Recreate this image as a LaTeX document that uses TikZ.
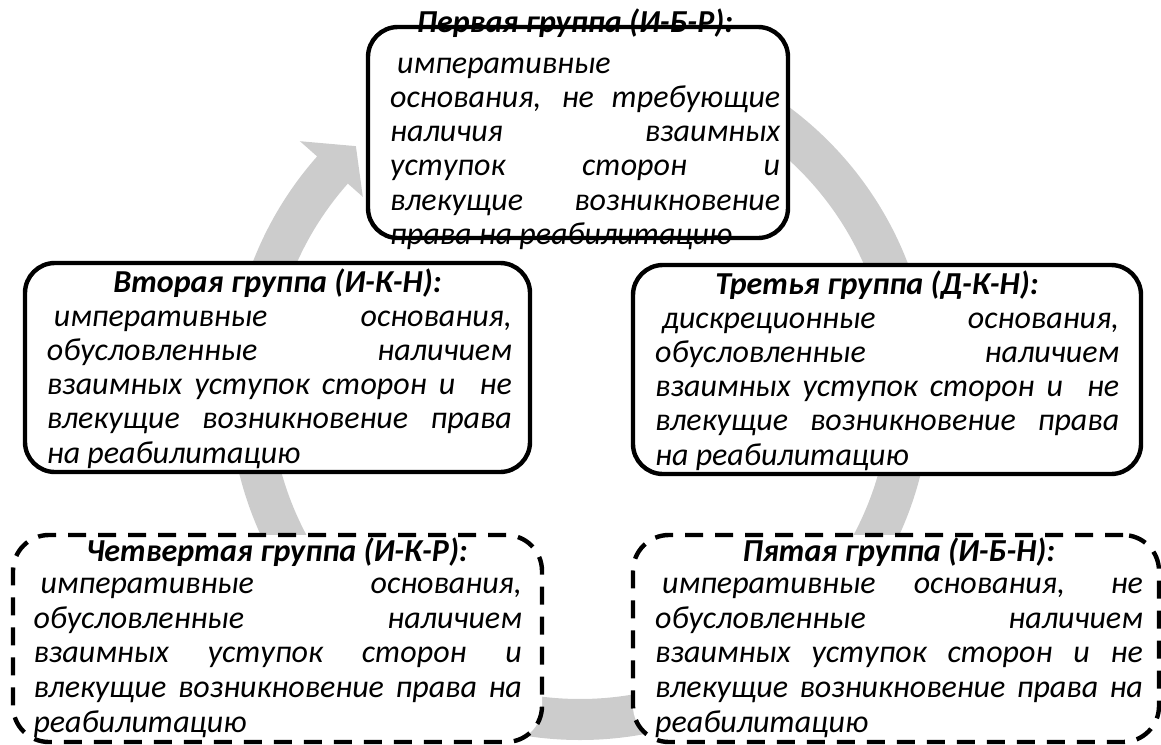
\documentclass[tikz,border=0pt]{standalone}
\usepackage{fontspec}
\setmainfont{Carlito}
\usetikzlibrary{calc}
\definecolor{arrowgray}{RGB}{204,204,204}
\newcommand\jline[1]{\hbox to\hsize{\rule{0pt}{26pt}#1}}
\newcommand\lline[1]{\hbox to\hsize{\rule{0pt}{26pt}#1\hfil}}
\newcommand\txtbox[3]{\vbox{\hsize=#1\baselineskip=#2\lineskiplimit=-100pt\lineskip=0pt\relax #3}}
\begin{document}
\begin{tikzpicture}[x=1pt,y=1pt,
  roundbox/.style={draw=black, line width=4.4pt, fill=white, rounded corners=30pt, inner sep=0pt, outer sep=0pt},
  dashbox/.style={roundbox, dash pattern=on 18pt off 12pt, rounded corners=36pt},
  body/.style={anchor=north west, inner sep=0pt, font=\fontsize{32}{34}\selectfont\itshape},
  head/.style={anchor=base, inner sep=0pt, font=\fontsize{32}{34}\selectfont\bfseries\itshape}]
\useasboundingbox (0,0) rectangle (1161,-744);
\coordinate (c) at (580,-389);
% gray circular arrow
\fill[arrowgray] ($(c)+(90:351)$) arc[start angle=90, end angle=-221.5, radius=351]
  -- ($(c)+(-221.5:374)$) -- ($(c)+(-227.3:330.5)$) -- ($(c)+(-221.5:290)$)
  -- ($(c)+(-221.5:310)$) arc[start angle=-221.5, end angle=90, radius=310] -- cycle;
% boxes
\node[roundbox, minimum width=420pt, minimum height=211pt] (b1) at (578,-132.5) {};
\node[roundbox, minimum width=505pt, minimum height=209pt] (b2) at (277.5,-367.5) {};
\node[roundbox, minimum width=508pt, minimum height=209pt] (b3) at (887,-369.5) {};
\node[dashbox, minimum width=529pt, minimum height=207pt] (b4) at (277.5,-638.5) {};
\node[dashbox, minimum width=526pt, minimum height=207pt] (b5) at (896,-638.5) {};
% texts
\node[head] (h1) at (575,-32) {Первая группа (И-Б-Р):};
\node[body] (t1) at (390,-47) {\txtbox{390pt}{34.2pt}{%
\lline{\kern7pt императивные}%
\jline{основания, не требующие}%
\jline{наличия взаимных}%
\jline{уступок сторон и}%
\jline{влекущие возникновение}%
\lline{права на реабилитацию}}};
\node[head] (h2) at (277.5,-292) {Вторая группа (И-К-Н):};
\node[body] (t2) at (46.7,-300) {\txtbox{465pt}{34.2pt}{%
\jline{\kern7pt императивные основания,}%
\jline{обусловленные наличием}%
\jline{взаимных уступок сторон и \ не}%
\jline{влекущие возникновение права}%
\lline{на реабилитацию}}};
\node[head] (h3) at (877,-294) {Третья группа (Д-К-Н):};
\node[body] (t3) at (655,-302) {\txtbox{464pt}{34.2pt}{%
\jline{\kern7pt дискреционные основания,}%
\jline{обусловленные наличием}%
\jline{взаимных уступок сторон и \ не}%
\jline{влекущие возникновение права}%
\lline{на реабилитацию}}};
\node[head] (h4) at (277,-561) {Четвертая группа (И-К-Р):};
\node[body] (t4) at (33.3,-567) {\txtbox{488.4pt}{34.8pt}{%
\jline{\kern7pt императивные основания,}%
\jline{обусловленные наличием}%
\jline{взаимных уступок сторон и}%
\jline{влекущие возникновение права на}%
\lline{реабилитацию}}};
\node[head] (h5) at (899,-561) {Пятая группа (И-Б-Н):};
\node[body] (t5) at (655,-567) {\txtbox{487.7pt}{34.8pt}{%
\jline{\kern7pt императивные основания, не}%
\jline{обусловленные наличием}%
\jline{взаимных уступок сторон и не}%
\jline{влекущие возникновение права на}%
\lline{реабилитацию}}};
\end{tikzpicture}
\end{document}
